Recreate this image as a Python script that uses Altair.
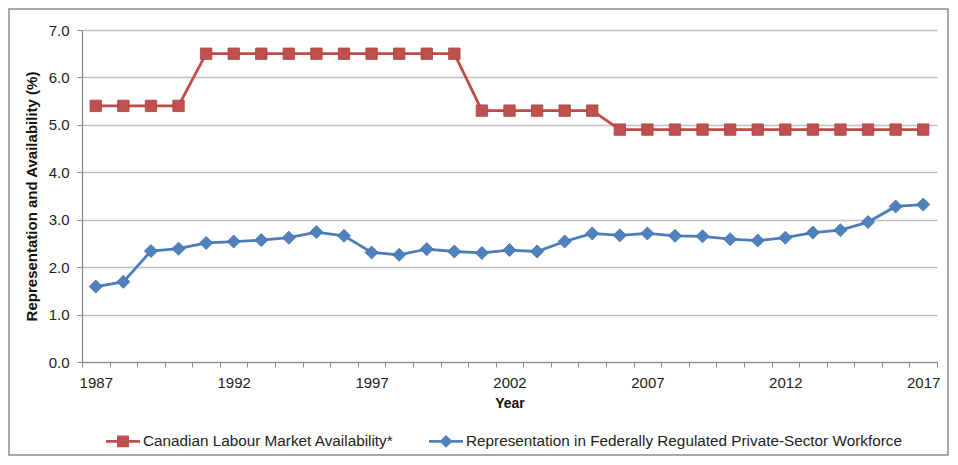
import altair as alt
import pandas as pd

years = list(range(1987, 2018))
availability = [5.4, 5.4, 5.4, 5.4,
                6.5, 6.5, 6.5, 6.5, 6.5, 6.5, 6.5, 6.5, 6.5, 6.5,
                5.3, 5.3, 5.3, 5.3, 5.3,
                4.9, 4.9, 4.9, 4.9, 4.9, 4.9, 4.9, 4.9, 4.9, 4.9, 4.9, 4.9]
representation = [1.59, 1.69, 2.34, 2.39, 2.51, 2.54, 2.57, 2.62, 2.74, 2.66,
                  2.31, 2.26, 2.38, 2.33, 2.30, 2.36, 2.33, 2.54, 2.71, 2.67,
                  2.71, 2.66, 2.65, 2.59, 2.56, 2.62, 2.73, 2.78, 2.95, 3.28, 3.32]
series_names = ["Canadian Labour Market Availability*",
                "Representation in Federally Regulated Private-Sector Workforce"]
y_ticks = [0, 1, 2, 3, 4, 5, 6, 7]

RED_LINE, RED_FILL = "#BE4B48", "#C0504D"
BLUE_LINE, BLUE_FILL = "#4A7EBB", "#4F81BD"
FONT = "Liberation Sans"

W, H = 855, 332
PAD = {"left": 74, "top": 22, "right": 12, "bottom": 94}

df = pd.DataFrame({
    "year": years * 2,
    "value": availability + representation,
    "series": [series_names[0]] * len(years) + [series_names[1]] * len(years),
})

half = [y - 0.5 for y in years] + [years[-1] + 0.5]

x_enc = alt.X("year:Q",
              scale=alt.Scale(domain=[years[0] - 0.5, years[-1] + 0.5], nice=False, zero=False),
              axis=alt.Axis(values=half, grid=False, tickSize=5, tickColor="#868686",
                            domainColor="#868686", domainWidth=1.2,
                            labelExpr="(datum.value + 0.5) % 5 == 2 ? format(datum.value + 0.5, 'd') : ''",
                            labelOffset=W / len(years) / 2, labelFlush=False, labelOverlap=False,
                            labelFont=FONT, labelFontSize=15, labelColor="#222222", labelPadding=8,
                            title="Year", titleFont=FONT, titleFontSize=14, titleFontWeight="bold",
                            titleColor="#111111", titlePadding=6))
y_enc = alt.Y("value:Q",
              scale=alt.Scale(domain=[0, 7], nice=False),
              axis=alt.Axis(values=y_ticks, format=".1f", grid=True, gridColor="#C0C0C0",
                            gridWidth=1.3, tickSize=5, tickColor="#868686",
                            domainColor="#868686", domainWidth=1.2, labelOverlap=False,
                            labelFont=FONT, labelFontSize=15, labelColor="#222222", labelPadding=8,
                            title="Representation and Availability (%)", titleFont=FONT,
                            titleFontSize=15, titleFontWeight="bold", titleColor="#111111",
                            titlePadding=9))

base = alt.Chart(df)

red = base.transform_filter(alt.datum.series == series_names[0]).mark_line(
    color=RED_LINE, strokeWidth=2.8,
    point=alt.OverlayMarkDef(shape="square", size=130, filled=True, fill=RED_FILL,
                             stroke="#A94441", strokeWidth=0.8, opacity=1),
).encode(x=x_enc, y=y_enc)

blue = base.transform_filter(alt.datum.series == series_names[1]).mark_line(
    color=BLUE_LINE, strokeWidth=2.8,
    point=alt.OverlayMarkDef(shape="diamond", size=170, filled=True, fill=BLUE_FILL,
                             stroke="#3F6FA8", strokeWidth=0.8, opacity=1),
).encode(x=x_enc, y=y_enc)

# legend symbols: a line segment with the marker in the middle
sq_path = "M-1,-0.08H-0.35V-0.35H0.35V-0.08H1V0.08H0.35V0.35H-0.35V0.08H-1Z"
di_path = "M-1,-0.08H-0.3L0,-0.38L0.3,-0.08H1V0.08H0.3L0,0.38L-0.3,0.08H-1Z"

leg = alt.Legend(title=None, orient="none", direction="horizontal",
                 legendX=24, legendY=394, symbolSize=1156,
                 symbolStrokeWidth=0, labelFont=FONT, labelFontSize=15.3,
                 labelColor="#222222", labelLimit=700, labelOffset=3,
                 columnPadding=35, symbolOpacity=1)

legend_layer = base.transform_filter("false").mark_point(filled=True, opacity=1).encode(
    x=x_enc, y=y_enc,
    color=alt.Color("series:N",
                    scale=alt.Scale(domain=series_names, range=[RED_FILL, BLUE_FILL]),
                    legend=leg),
    shape=alt.Shape("series:N",
                    scale=alt.Scale(domain=series_names, range=[sq_path, di_path]),
                    legend=leg),
)

border = alt.Chart(pd.DataFrame({"k": [0]})).mark_rect(
    fill="transparent", stroke="#8C8C8C", strokeWidth=1.5
).encode(x=alt.value(-PAD["left"] + 1), x2=alt.value(W + PAD["right"] - 1),
         y=alt.value(-PAD["top"] + 1), y2=alt.value(H + PAD["bottom"] - 1))

chart = alt.layer(border, red, blue, legend_layer).properties(
    width=W, height=H, padding=PAD, autosize=alt.AutoSizeParams(type="none"),
    background="white",
).configure_view(stroke=None)

chart.save("out.html", embed_options={"renderer": "svg", "actions": False})
